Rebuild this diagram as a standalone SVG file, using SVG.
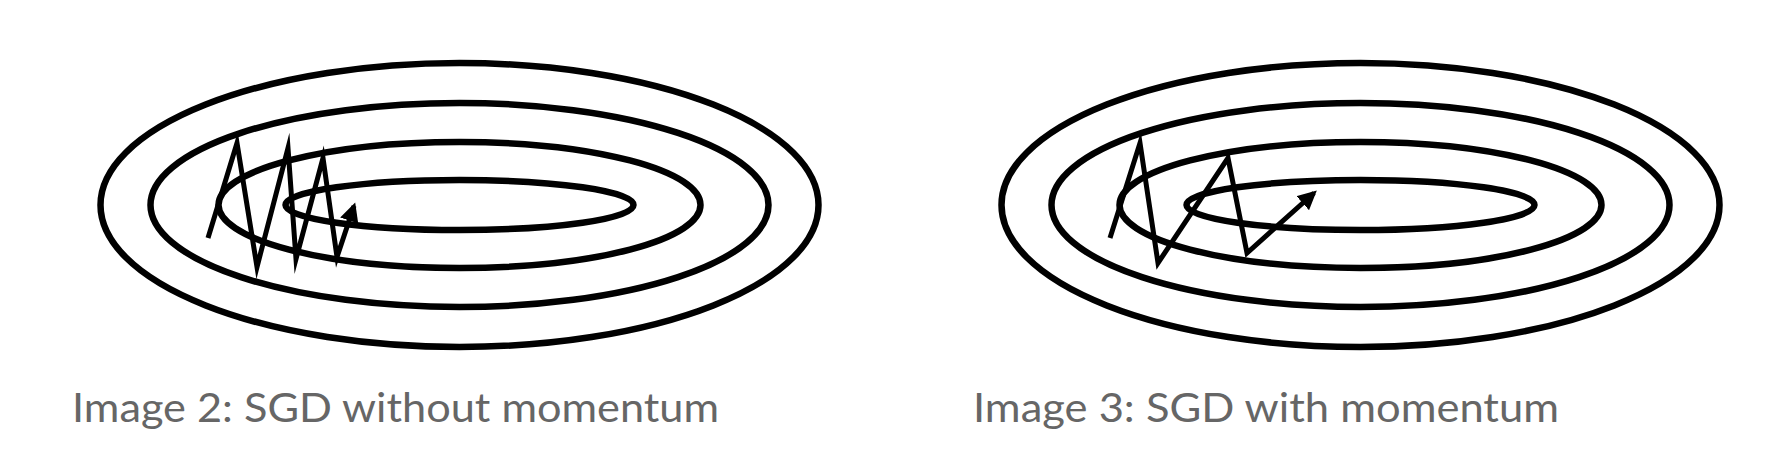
<svg xmlns="http://www.w3.org/2000/svg" width="1768" height="468" viewBox="0 0 1768 468">
  <style>
    .contour { fill: none; stroke: #000; stroke-width: 6.5; }
    .path { fill: none; stroke: #000; stroke-width: 5; stroke-linejoin: miter; stroke-miterlimit: 12; }
    .caption { font-family: Lato, "Open Sans", "Liberation Sans", sans-serif; font-size: 40px; fill: #666; }
  </style>
  <defs>
    <marker id="arrow" viewBox="0 0 10 10" refX="8" refY="5" markerWidth="3.8" markerHeight="3.8" markerUnits="strokeWidth" orient="auto">
      <path d="M0,0 L10,5 L0,10 Z" fill="#000"/>
    </marker>
  </defs>
  <rect width="1768" height="468" fill="#fff"/>

  <g id="contours-left">
    <ellipse class="contour" cx="459.5" cy="205" rx="359" ry="142"/>
    <ellipse class="contour" cx="459.5" cy="205" rx="309" ry="102"/>
    <ellipse class="contour" cx="459.5" cy="205" rx="241" ry="63"/>
    <ellipse class="contour" cx="459.5" cy="205" rx="174" ry="25"/>
  </g>
  <g id="contours-right">
    <ellipse class="contour" cx="1360.5" cy="205" rx="359" ry="142"/>
    <ellipse class="contour" cx="1360.5" cy="205" rx="309" ry="102"/>
    <ellipse class="contour" cx="1360.5" cy="205" rx="241" ry="63"/>
    <ellipse class="contour" cx="1360.5" cy="205" rx="174" ry="25"/>
  </g>

  <g id="connectors">
    <polyline class="path" marker-end="url(#arrow)" points="208,238 237,143 257,267 288,148 296,259 323,158 337,257 354,206"/>
    <polyline class="path" marker-end="url(#arrow)" points="1110,238 1140,143 1158,263 1228,158 1247,253 1314,193"/>
  </g>

  <g id="caption-left">
    <text class="caption" x="72" y="422" textLength="647" lengthAdjust="spacingAndGlyphs">Image 2: SGD without momentum</text>
  </g>
  <g id="caption-right">
    <text class="caption" x="973" y="422" textLength="586" lengthAdjust="spacingAndGlyphs">Image 3: SGD with momentum</text>
  </g>
</svg>
